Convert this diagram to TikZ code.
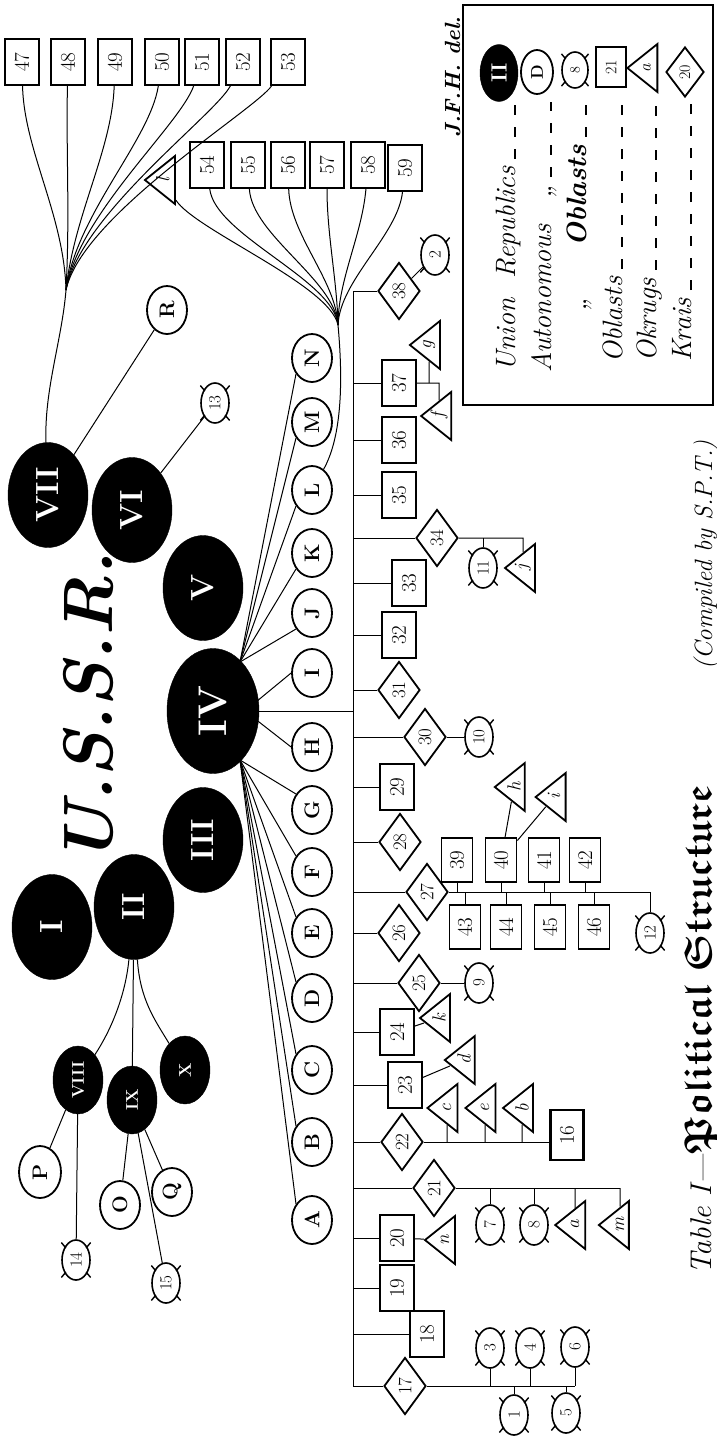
\documentclass[tikz,border=0pt]{standalone}
\usepackage{fontspec}
\usepackage{amssymb}
\usetikzlibrary{shapes.geometric, calc}

\tikzset{
  link/.style={line width=1pt},
  rep/.style={ellipse, draw, fill=black, text=white, rotate=90, inner sep=0pt,
    minimum width=105, minimum height=80, font=\bfseries\fontsize{32}{32}\selectfont},
  minirep/.style={rep, minimum width=68, minimum height=50, font=\bfseries\fontsize{17}{17}\selectfont},
  asr/.style={ellipse, draw, line width=1.8pt, fill=white, rotate=90, inner sep=0pt,
    minimum width=48, minimum height=40, font=\bfseries\fontsize{21}{21}\selectfont},
  aobl/.style={ellipse, draw, line width=1.6pt, fill=white, rotate=90, inner sep=0pt,
    minimum width=40, minimum height=28, font=\fontsize{17}{17}\selectfont},
  obl/.style={rectangle, draw, line width=1.8pt, fill=white, rotate=90, inner sep=0pt,
    minimum width=46, minimum height=34, font=\fontsize{21}{21}\selectfont},
  okr/.style={isosceles triangle, isosceles triangle stretches, shape border rotate=90,
    draw, line width=1.8pt, fill=white, rotate=90, inner sep=0pt,
    minimum width=48, minimum height=30, font=\itshape\fontsize{19}{19}\selectfont},
  krai/.style={diamond, draw, line width=1.8pt, fill=white, rotate=90, inner sep=0pt,
    minimum width=57, minimum height=42, font=\fontsize{19}{19}\selectfont},
  legend/.style={rotate=90, anchor=base west, inner sep=0pt,
    font=\itshape\fontsize{28}{28}\selectfont\addfontfeature{LetterSpace=6}},
  legdash/.style={line width=1.5pt, dash pattern=on 10pt off 12pt, shorten <=8pt},
  legs/.style={line width=1.4pt},
}

\begin{document}
\begin{tikzpicture}[x=1pt, y=-1pt]
\useasboundingbox (0,0) rectangle (717,1441);

% union republics
\node[rep] (rI) at (52,927) {I};
\node[rep] (rII) at (134,907) {II};
\node[rep] (rIII) at (203,840) {III};
\node[rep, minimum width=125, minimum height=92, font=\bfseries\fontsize{40}{40}\selectfont] (rIV) at (213,711) {IV};
\node[rep] (rV) at (203,588) {V};
\node[rep] (rVI) at (132,510) {VI};
\node[rep] (rVII) at (48,495) {VII};
\node[minirep] (rVIII) at (78,1080) {VIII};
\node[minirep] (rIX) at (132,1100) {IX};
\node[minirep] (rX) at (185,1070) {X};

\node[rotate=90, anchor=base, font=\bfseries\itshape\fontsize{70}{70}\selectfont] (ussr) at (112,708) {U.S.S.R.};

% autonomous republics of IV
\foreach \c/\y in {A/1220, B/1142, C/1070, D/998, E/933, F/872, G/810,
                   H/747, I/673, J/613, K/553, L/490, M/422, N/358}
  \node[asr] (as\c) at (312,\y) {\c};
\node[asr] (asR) at (167,310) {R};
\node[asr, minimum width=52, minimum height=42] (asP) at (40,1172) {P};
\node[asr] (asO) at (120,1205) {O};
\node[asr] (asQ) at (172,1192) {Q};

\coordinate (ivS) at (240,760);
\coordinate (ivE) at (245,711);
\coordinate (ivN) at (240,662);
\foreach \c in {A,...,G} \draw[link] (ivS) -- (as\c.45);
\foreach \c in {H,I} \draw[link] (ivE) -- (as\c.90);
\foreach \c in {J,...,N} \draw[link] (ivN) -- (as\c.135);

% krais and oblasts on the trunk
\node[krai] (kr38) at (399,291) {38};
\node[obl] (ob37) at (399,383) {37};
\node[obl] (ob36) at (399,440) {36};
\node[obl] (ob35) at (399,495) {35};
\node[krai] (kr34) at (437,538) {34};
\node[obl] (ob33) at (409,583) {33};
\node[obl] (ob32) at (399,635) {32};
\node[krai] (kr31) at (399,690) {31};
\node[krai] (kr30) at (425,737) {30};
\node[obl] (ob29) at (397,787) {29};
\node[krai] (kr28) at (400,842) {28};
\node[krai] (kr27) at (427,892) {27};
\node[krai] (kr26) at (399,933) {26};
\node[krai] (kr25) at (419,983) {25};
\node[obl] (ob24) at (397,1032) {24};
\node[obl] (ob23) at (405,1085) {23};
\node[krai] (kr22) at (402,1142) {22};
\node[krai] (kr21) at (434,1188) {21};
\node[obl] (ob20) at (397,1238) {20};
\node[obl] (ob19) at (397,1288) {19};
\node[obl] (ob18) at (427,1334) {18};
\node[krai] (kr17) at (405,1386) {17};

\foreach \n/\y in {kr38/291, ob37/383, ob36/440, ob35/495, kr34/538, ob33/583,
                   ob32/635, kr31/690, kr30/737, ob29/787, kr28/842, kr27/892,
                   kr26/933, kr25/983, ob24/1032, ob23/1085, kr22/1142, kr21/1188,
                   ob20/1238, ob19/1288, ob18/1334, kr17/1386}
  {\coordinate (t\n) at (353,\y); \draw[link] (t\n) -- (\n);}
\draw[link] (tkr38) -- (tkr17);
\coordinate (tIV) at (353,711);
\draw[link] (rIV) -- (tIV);

% autonomous oblasts
\foreach \i/\x/\y in {1/514/1415, 2/435/255, 3/490/1348, 4/530/1348, 5/566/1413,
                      6/575/1347, 7/490/1225, 8/534/1225, 9/479/983, 10/479/737,
                      11/483/568, 12/650/933, 13/215/403, 14/76/1260, 15/166/1283}
  \node[aobl] (ao\i) at (\x,\y) {\i};

% okrugs
\foreach \o/\x/\y in {a/575/1225, b/522/1108, c/447/1108, d/464/1060, e/485/1108,
                      f/439/416, g/429/345, h/514/787, i/554/797, j/523/568,
                      k/439/1018, l/163/180, m/620/1225, n/445/1240}
  \node[okr] (ok\o) at (\x,\y) {\o};

% oblasts under krais
\foreach \k/\x/\y in {39/457/860, 40/501/860, 41/544/860, 42/585/860,
                      43/465/927, 44/506/927, 45/550/927, 46/594/927}
  \node[obl, minimum width=44, minimum height=31] (ob\k) at (\x,\y) {\k};
\node[obl, line width=2.6pt, minimum width=50, minimum height=33] (ob16) at (567,1135) {16};

% oblasts of VII and of L
\foreach \k/\x in {47/22, 48/68, 49/115, 50/162, 51/202, 52/243, 53/288}
  \node[obl] (ob\k) at (\x,62) {\k};
\foreach \k/\x/\y in {54/207/165, 55/248/165, 56/288/165, 57/327/165, 58/368/165, 59/405/168}
  \node[obl] (ob\k) at (\x,\y) {\k};

% branches
\draw[link] (kr38) -- (ao2);
\coordinate (j37) at (439,383);
\draw[link] (ob37) -- (j37) -- (okf);
\draw[link] (okg) -- (okg |- ob37);
\coordinate (j34) at (523,538);
\draw[link] (kr34) -- (j34) -- (okj);
\draw[link] (ao11) -- (ao11 |- kr34);
\draw[link] (kr30) -- (ao10);
\coordinate (j27) at (650,892);
\draw[link] (kr27) -- (j27) -- (ao12);
\foreach \k in {39,...,46} \draw[link] (ob\k) -- (ob\k |- j27);
\draw[link] (ob40) -- (okh);
\draw[link] (ob40) -- (oki);
\draw[link] (kr25) -- (ao9);
\draw[link] (ob24) -- (okk);
\draw[link] (ob23) -- (okd);
\draw[link] (kr22) -- (kr22 -| ob16.north);
\foreach \o in {c,e,b} \draw[link] (ok\o) -- (ok\o |- kr22);
\coordinate (j21) at (620,1188);
\draw[link] (kr21) -- (j21);
\foreach \n in {ao7,ao8,oka,okm} \draw[link] (\n) -- (\n |- kr21);
\draw[link] (ob20) -- (okn);
\coordinate (j17) at (575,1386);
\draw[link] (kr17) -- (j17);
\foreach \n in {ao3,ao4,ao6,ao1,ao5} \draw[link] (\n) -- (\n |- kr17);

\draw[link] (rII) .. controls (125,1000) and (108,1035) .. (rVIII);
\draw[link] (rII) -- (rIX);
\draw[link] (rII) .. controls (140,1000) and (155,1020) .. (rX);
\draw[link] (rVIII) -- (asP);
\draw[link] (rVIII) -- (ao14);
\draw[link] (rIX) -- (asO);
\draw[link] (rIX) -- (asQ);
\draw[link] (rIX) -- (ao15);
\draw[link] (rVI) -- (ao13);
\draw[link] (rVII) -- (asR);

% fan of VII
\coordinate (v7) at (66,290);
\draw[link] (rVII) .. controls (44,390) and (62,340) .. (v7);
\foreach \k/\ax/\bx/\by in {47/64/24/150, 48/70/66/150, 49/74/112/150, 50/76/150/140,
                            51/78/180/125, 52/80/215/115, 53/82/255/110}
  \draw[link] (v7) .. controls (\ax,215) and (\bx,\by) .. (ob\k);

% fan of L
\coordinate (fanS) at (338,325);
\draw[link] (fanS) .. controls (344,390) and (340,440) .. (asL);
\foreach \k/\ax/\bx in {54/334/215, 55/335/252, 56/336/290, 57/337/327, 58/338/362, 59/340/398}
  \draw[link] (fanS) .. controls (\ax,280) and (\bx,235) .. (ob\k);
\draw[link] (fanS) .. controls (330,285) and (195,230) .. (okl);

% legend
\draw[line width=1.8pt] (463,5) rectangle (713,405);
\node[rep, minimum width=57, minimum height=38, font=\bfseries\fontsize{22}{22}\selectfont] (kII) at (499,73) {II};
\node[asr, minimum width=44, minimum height=32, font=\bfseries\fontsize{17}{17}\selectfont] (kD) at (537,72) {D};
\node[aobl, minimum width=36, minimum height=26, font=\fontsize{14}{14}\selectfont] (k8) at (575,70) {8};
\node[obl, minimum width=40, minimum height=30, font=\fontsize{16}{16}\selectfont] (k21) at (611,67) {21};
\node[okr, font=\itshape\fontsize{17}{17}\selectfont] (ka) at (647,68) {a};
\node[krai, minimum width=50, minimum height=38, font=\fontsize{16}{16}\selectfont] (k20) at (685,72) {20};
\node[legend] (lab1) at (515,372) {Union\hspace{10pt} Republics};
\node[legend] (lab2) at (551,373) {Autonomous\hspace{26pt}„};
\node[legend] (lab3) at (586,312) {„\hspace{52pt}{\bfseries Oblasts}};
\node[legend] (lab4) at (622,363) {Oblasts};
\node[legend] (lab5) at (656,362) {Okrugs};
\node[legend] (lab6) at (691,362) {Krais};
\foreach \i in {1,...,6} \draw[legdash] (lab\i.base east) -- (lab\i.base east |- kII.west);

% legs of the autonomous oblasts
\foreach \i in {1,...,15}
  \foreach \a in {40,140,220,320}
    \draw[legs] ($(ao\i.center)!0.9!(ao\i.\a)$) -- ($(ao\i.center)!1.3!(ao\i.\a)$);
\foreach \a in {40,140,220,320}
  \draw[legs] ($(k8.center)!0.9!(k8.\a)$) -- ($(k8.center)!1.3!(k8.\a)$);

% captions
\node[rotate=90, anchor=base, font=\bfseries\itshape\fontsize{22}{22}\selectfont] (jfh) at (460,77) {J.F.H. del.};
\node[rotate=90, anchor=base, font=\itshape\fontsize{25}{25}\selectfont] (compiled) at (712,555) {(Compiled by S.P.T.)};
\node[rotate=90, anchor=base, font=\fontsize{30}{30}\selectfont] (caption) at (711,1030)
  {\itshape Table I---\upshape\scalebox{1.3}{\boldmath$\mathfrak{Political\ Structure}$}};
\end{tikzpicture}
\end{document}
